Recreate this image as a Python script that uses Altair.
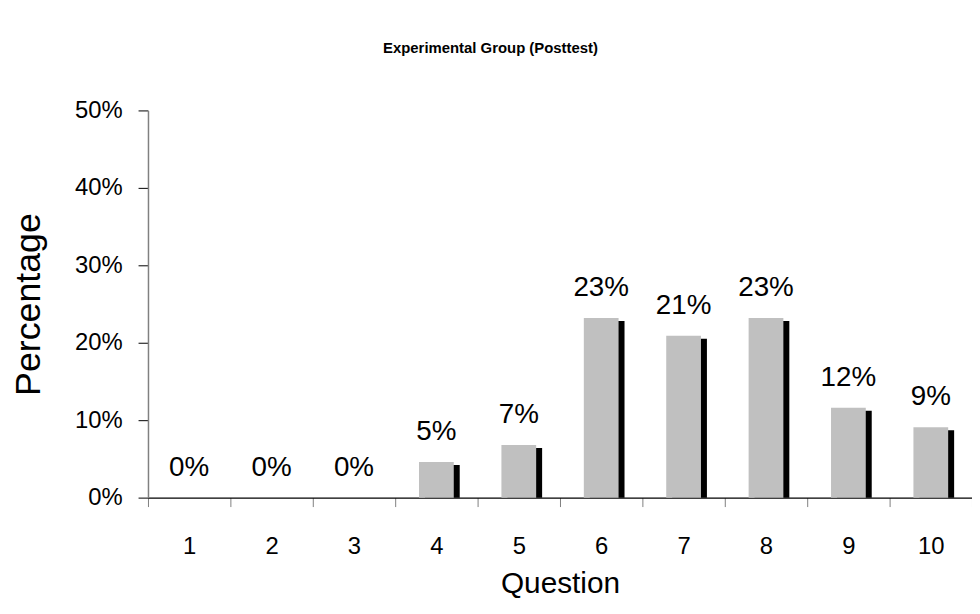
import altair as alt
import pandas as pd

questions = ["1", "2", "3", "4", "5", "6", "7", "8", "9", "10"]
values = [0.0, 0.0, 0.0, 0.046, 0.068, 0.232, 0.209, 0.232, 0.116, 0.091]
labels = ["0%", "0%", "0%", "5%", "7%", "23%", "21%", "23%", "12%", "9%"]

df = pd.DataFrame({"Question": questions, "value": values, "label": labels})

FONT = "Liberation Sans"

x_enc = alt.X(
    "Question:N",
    sort=questions,
    scale=alt.Scale(paddingInner=0, paddingOuter=0),
    axis=alt.Axis(
        title="Question",
        labelAngle=0,
        labelFontSize=24,
        labelFont=FONT,
        labelColor="black",
        labelPadding=28,
        titleFontSize=30,
        titleFont=FONT,
        titleFontWeight="normal",
        titleColor="black",
        titlePadding=11,
        tickBand="extent",
        tickSize=9,
        tickColor="#808080",
        domainColor="black",
        domainWidth=1.5,
        grid=False,
    ),
)

y_axis = alt.Axis(
    title="Percentage",
    format=".0%",
    values=[0, 0.1, 0.2, 0.3, 0.4, 0.5],
    labelFontSize=24,
    labelFont=FONT,
    labelColor="black",
    labelPadding=16,
    titleFontSize=36,
    titleFont=FONT,
    titleFontWeight="normal",
    titleColor="black",
    titlePadding=27,
    tickSize=10,
    tickColor="black",
    domainColor="#808080",
    domainWidth=1.5,
    grid=False,
)

y_scale = alt.Scale(domain=[0, 0.5])

base = alt.Chart(df)

shadow = base.transform_filter("datum.value > 0").mark_bar(
    color="black", size=35, xOffset=6, yOffset=3, y2Offset=0
).encode(
    x=x_enc,
    y=alt.Y("value:Q", scale=y_scale, axis=y_axis),
    y2=alt.Y2(datum=0),
)

bars = base.mark_bar(color="#C0C0C0", size=35).encode(
    x=x_enc,
    y=alt.Y("value:Q", scale=y_scale, axis=y_axis),
)

text = base.mark_text(
    fontSize=28, font=FONT, color="black", baseline="bottom", dy=-16
).encode(
    x=x_enc,
    y=alt.Y("value:Q", scale=y_scale, axis=y_axis),
    text="label:N",
)

chart = (
    alt.layer(shadow, bars, text)
    .properties(
        width=830,
        height=390,
        title=alt.TitleParams(
            "Experimental Group (Posttest)",
            font=FONT,
            fontSize=15,
            fontWeight="bold",
            color="black",
            anchor="middle",
            offset=43,
            dx=-70,
        ),
        autosize=alt.AutoSizeParams(type="none"),
        padding={"left": 141, "top": 101, "right": 0, "bottom": 110},
    )
    .configure(background="white")
    .configure_axis(grid=False)
    .configure_view(stroke=None, strokeOpacity=0, strokeWidth=0)
)

chart.save("out.html", embed_options={"renderer": "svg", "actions": False})
